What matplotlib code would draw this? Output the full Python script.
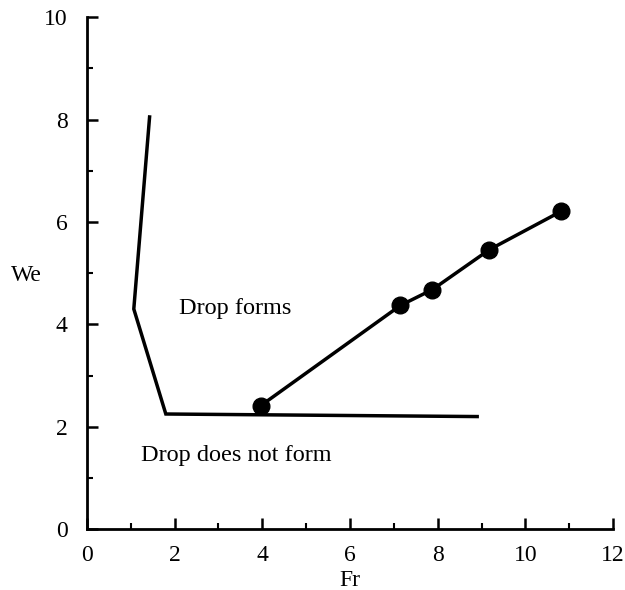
import matplotlib.pyplot as plt
from matplotlib.ticker import MultipleLocator

# boundary curve (Fr, We)
bound_fr = [1.43, 1.07, 1.80, 8.90]
bound_we = [8.05, 4.30, 2.25, 2.20]

# measured points
pts_fr = [3.96, 7.15, 7.88, 9.18, 10.82]
pts_we = [2.41, 4.37, 4.68, 5.46, 6.21]

plt.rcParams['font.family'] = ['Liberation Serif', 'DejaVu Serif']

fig = plt.figure(figsize=(6.25, 5.9), dpi=100)
ax = fig.add_axes([0.139, 0.103, 0.842, 0.868])

ax.plot(bound_fr, bound_we, color='black', lw=2.5, solid_joinstyle='miter')
ax.plot(pts_fr, pts_we, color='black', lw=2.5, marker='o', ms=12, mfc='black', mec='black')

ax.text(2.1, 4.31, 'Drop forms', fontsize=17.5, va='center', ha='left')
ax.text(1.23, 1.44, 'Drop does not form', fontsize=17.5, va='center', ha='left')

ax.set_xlim(0, 12)
ax.set_ylim(0, 10)
ax.xaxis.set_major_locator(MultipleLocator(2))
ax.xaxis.set_minor_locator(MultipleLocator(1))
ax.yaxis.set_major_locator(MultipleLocator(2))
ax.yaxis.set_minor_locator(MultipleLocator(1))
ax.tick_params(which='major', direction='in', length=8, width=1.8, labelsize=17, pad=11)
ax.tick_params(which='minor', direction='in', length=4, width=1.5)
ax.tick_params(axis='y', pad=14)

for s in ['top', 'right']:
    ax.spines[s].set_visible(False)
for s in ['left', 'bottom']:
    ax.spines[s].set_linewidth(2)

ax.set_xlabel('Fr', fontsize=17, labelpad=3)
ax.set_ylabel('We', fontsize=17, rotation=0, va='center', ha='center')
ax.yaxis.set_label_coords(-0.114, 0.496)

fig.savefig('out.png', dpi=100)
